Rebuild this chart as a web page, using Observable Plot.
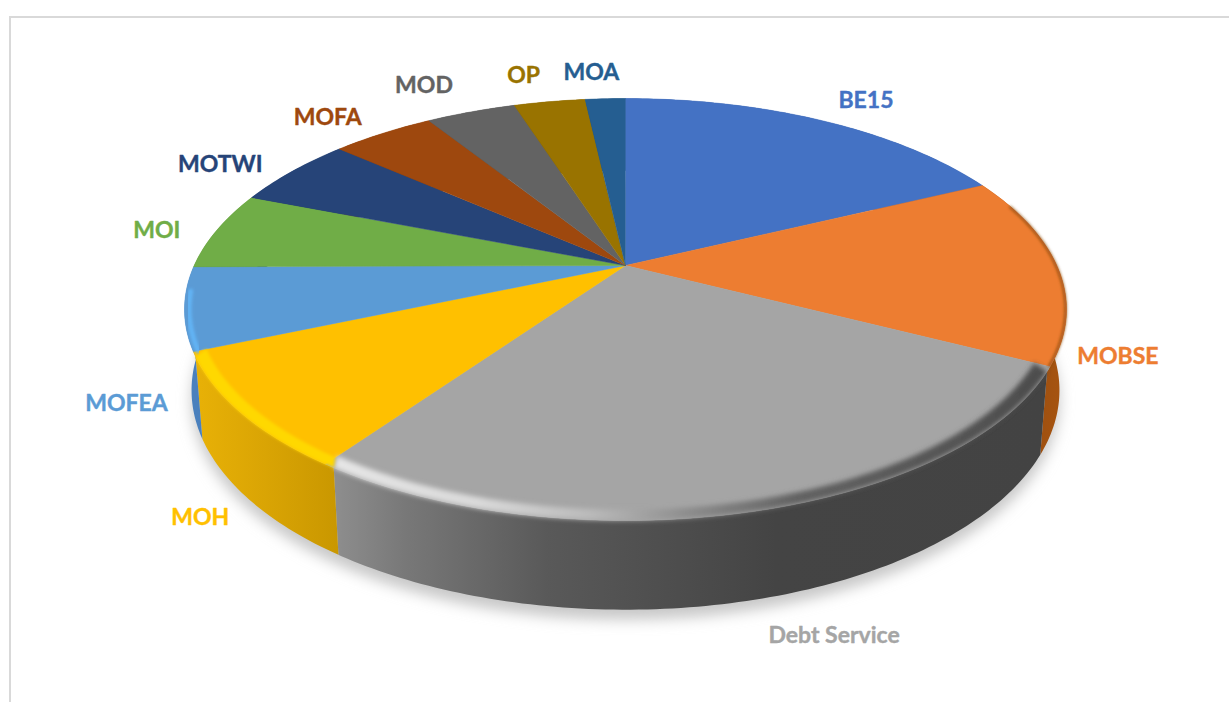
<!DOCTYPE html>
<html><head><meta charset="utf-8">
<style>
html,body{margin:0;padding:0;background:#fff;overflow:hidden}
#wrap{position:relative;width:1229px;height:702px}
#frame{position:absolute;left:9px;top:16px;right:-5px;bottom:-5px;border-top:2px solid #d9d9d9;border-left:2px solid #d9d9d9;pointer-events:none}
svg{display:block}
</style>
<script src="https://cdn.jsdelivr.net/npm/d3@7"></script>
<script src="https://cdn.jsdelivr.net/npm/@observablehq/plot@0.6"></script>
</head><body><div id="wrap"><div id="frame"></div></div>
<script>
// Data: clockwise from 12 o'clock, percent of total
const categories = ["BE15","MOBSE","Debt Service","MOH","MOFEA","MOI","MOTWI","MOFA","MOD","OP","MOA"];
const shares = [17.9,14.6,27.3,8.8,6.3,6.0,5.5,4.6,4.0,3.2,1.8];
const colors = ["#4472c4","#ed7d31","#a5a5a5","#ffc000","#5b9bd5","#70ad47","#264478","#9e480e","#636363","#997300","#255e91"];
// Styling of the disc wall
const wallFills = ["#2f5597","url(#wallOrange)","url(#wallGray)","url(#wallYellow)","#4a80bd","#5a8f38","#1d3560","#7f3a0b","#505050","#7a5c00","#1d4b74"];
// Pixel offset of each label from the rim point at the slice's middle
const labelNudges = [[45,-20],[60,89],[79,124],[-39,106],[-58,95],[-60,0],[-72,-7],[-55,-16],[-47,-26],[-26,-26],[-14,-26]];

// Perspective disc model: unit circle -> projected units
const k = 0.2086;
const project = (pct, r = 1) => {
  const t = pct / 100 * 2 * Math.PI, u = r * Math.sin(t), v = -r * Math.cos(t), w = 1 - k * v;
  return {x: u / w, y: v / w};
};
const lowerX = 0.984, lowerY = 1.04, lowerShift = 79 / 201.8; // bottom rim relative to top rim
const lower = p => ({x: p.x * lowerX, y: p.y * lowerY + lowerShift});
const range = (a, b, step = 0.25) => {
  const out = d3.range(a, b, step); out.push(b); return out;
};
const ends = Array.from(d3.cumsum(shares));
const starts = ends.map((e, i) => e - shares[i]);

// On the front half the rounded edge pulls slice joints toward the bottom of the disc
const joint = p => (p > 25 && p < 75 ? p + 0.35 * Math.sign(50 - p) : p);
const arc = (a, b, r) => range(a, b).map(p => project(p, r));

const facePts = i => [{x: 0, y: 0}, ...arc(starts[i], ends[i], 1)];
const wallPts = i => {
  const top = arc(joint(starts[i]), joint(ends[i]), 1);
  return [...top, ...top.slice().reverse().map(lower)];
};
const bandPts = (a, b, inner) => [...arc(a, b, inner), ...arc(joint(a), joint(b), 1).reverse()];
const whole = range(0, 100);

const mk = (pts, o) => Plot.line(pts, {x: "x", y: "y", ...o});

const defs = () => {
  const d = d3.create("svg:defs");
  const grad = (id, stops) => {
    const g = d.append("linearGradient").attr("id", id).attr("x1", 0).attr("x2", 1).attr("y1", 0).attr("y2", 0);
    stops.forEach(([o, c]) => g.append("stop").attr("offset", o).attr("stop-color", c));
  };
  grad("wallGray", [[0,"#8e8e8e"],[0.1,"#787878"],[0.3,"#595959"],[0.62,"#444444"],[1,"#434343"]]);
  grad("wallYellow", [[0,"#e8b107"],[0.5,"#d9a404"],[1,"#c99700"]]);
  grad("wallOrange", [[0,"#8a4510"],[1,"#a85510"]]);
  grad("bevelGray", [[0,"#e6e6e6"],[0.2,"#dadada"],[0.36,"#bababa"],[0.5,"#8c8c8c"],[0.65,"#626262"],[1,"#4c4c4c"]]);
  [["soft2",1.5],["soft3",2.6],["soft12",7]].forEach(([id, s]) => {
    d.append("filter").attr("id", id).attr("x","-10%").attr("y","-10%").attr("width","120%").attr("height","120%")
     .append("feGaussianBlur").attr("stdDeviation", s);
  });
  return d.node();
};

const labels = categories.map((c, i) => ({c, ...project((starts[i] + ends[i]) / 2), i}));

const chart = Plot.plot({
  width: 1229, height: 702, margin: 0,
  x: {domain: [-1, 1], range: [625 - 431.3, 625 + 431.3], axis: null},
  y: {domain: [-1, 1], range: [265 - 201.8, 265 + 201.8], axis: null},
  style: {background: "transparent"},
  marks: [
    defs,
    // Soft shadow under the disc
    mk(whole.map(p => {const q = lower(project(p, 1)); return {x: q.x, y: q.y + 0.05};}),
       {fill: "#c8c8c8", stroke: "none", ariaDescription: "shadow"}),
    // Walls
    ...categories.map((c, i) => mk(wallPts(i), {fill: wallFills[i], stroke: "none"})),
    // Top faces
    ...categories.map((c, i) => mk(facePts(i), {fill: colors[i], stroke: colors[i], strokeWidth: 0.5})),
    // Bevel
    mk(bandPts(starts[2], ends[2], 0.966), {fill: "url(#bevelGray)", stroke: "none", ariaDescription: "bevelWide"}),
    mk(bandPts(starts[3], ends[3], 0.972), {fill: "#ffd800", stroke: "none", ariaDescription: "bevel"}),
    mk(arc(starts[4], 73, 0.99), {stroke: "#62b4f5", strokeWidth: 5, ariaDescription: "bevel"}),
    mk(arc(20, ends[1], 0.998), {stroke: "#85470f", strokeWidth: 2, ariaDescription: "bevel"}),
    // Labels
    ...labels.map(d => Plot.text([d], {
      x: "x", y: "y", text: "c", fill: colors[d.i], stroke: colors[d.i], strokeWidth: 0.4,
      dx: labelNudges[d.i][0], dy: labelNudges[d.i][1],
      fontFamily: "Lato", fontWeight: 700, fontSize: 23, textAnchor: "middle", lineAnchor: "middle"
    }))
  ]
});
chart.querySelectorAll('[aria-description="bevel"]').forEach(g => g.setAttribute("filter", "url(#soft2)"));
chart.querySelectorAll('[aria-description="bevelWide"]').forEach(g => g.setAttribute("filter", "url(#soft3)"));
chart.querySelectorAll('[aria-description="shadow"]').forEach(g => g.setAttribute("filter", "url(#soft12)"));
document.getElementById("wrap").prepend(chart);
</script></body></html>
